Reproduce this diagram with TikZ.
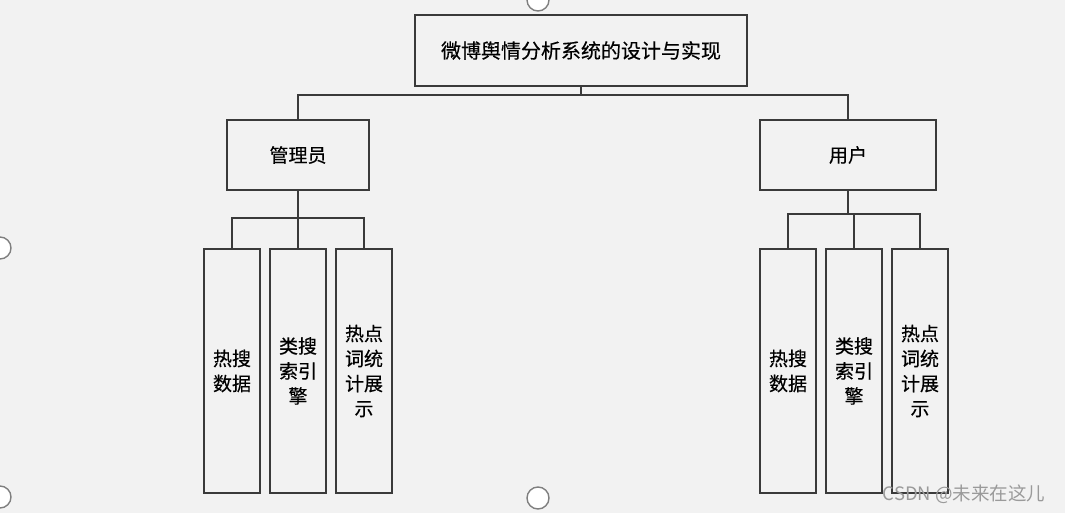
\documentclass[tikz,border=0pt]{standalone}
\usepackage{fontspec}
\newfontfamily\cjk{Noto Sans CJK SC}
\newfontfamily\cjkb[FakeBold=0.4]{Noto Sans CJK SC}
\definecolor{bg}{HTML}{F2F2F2}
\definecolor{edge}{HTML}{3A3A3A}
\definecolor{handle}{HTML}{7F7F7F}
\definecolor{wm}{HTML}{9A9A9A}
\begin{document}
\begin{tikzpicture}[x=1pt,y=-1pt,
  box/.style={draw=edge,line width=1.1pt,fill=bg,inner sep=0pt,font=\cjkb},
  leaf/.style={box,minimum width=56pt,minimum height=244pt,align=center,
     font=\cjkb\fontsize{19}{25}\selectfont},
  conn/.style={draw=edge,line width=1.1pt},
  hdl/.style={draw=handle,line width=1.4pt,fill=white}]
\useasboundingbox (0,0) rectangle (1065,513);
\fill[bg] (0,0) rectangle (1065,513);
% root
\node[box,minimum width=332pt,minimum height=71pt,font=\cjkb\fontsize{20}{24}\selectfont] (root) at (581,50.5) {微博舆情分析系统的设计与实现};
\node[box,minimum width=142pt,minimum height=70pt,font=\cjkb\fontsize{19}{23}\selectfont] (admin) at (298,155) {管理员};
\node[box,minimum width=176pt,minimum height=70pt,font=\cjkb\fontsize{19}{23}\selectfont] (user) at (848,155) {用户};
% admin leaves
\node[leaf] (a1) at (232,371) {热搜\\数据};
\node[leaf] (a2) at (298,371) {类搜\\索引\\擎};
\node[leaf] (a3) at (364,371) {热点\\词统\\计展\\示};
% user leaves
\node[leaf] (u1) at (788,371) {热搜\\数据};
\node[leaf] (u2) at (854,371) {类搜\\索引\\擎};
\node[leaf] (u3) at (920,371) {热点\\词统\\计展\\示};
% connectors
\coordinate (rj) at (581,95);
\draw[conn] (root.south) -- (rj);
\draw[conn] (rj) -| (admin.north);
\draw[conn] (rj) -| (user.north);
\coordinate (aj) at (298,218);
\draw[conn] (admin.south) -- (aj);
\draw[conn] (aj) -| (a1.north);
\draw[conn] (aj) -| (a3.north);
\draw[conn] (aj) -- (a2.north);
\coordinate (uj) at (848,214);
\draw[conn] (user.south) -- (uj);
\draw[conn] (uj) -| (u1.north);
\draw[conn] (uj) -| (u3.north);
\draw[conn] (u2.north) |- (uj);
% handles
\draw[hdl] (538,0) circle (11);
\draw[hdl] (538,498) circle (11);
\draw[hdl] (0,248) circle (11);
\draw[hdl] (0,497) circle (11);
% watermark
\node[font=\cjk\fontsize{18.5}{20}\selectfont,text=wm,inner sep=0pt] (wmk) at (964,494) {CSDN @未来在这儿};
\end{tikzpicture}
\end{document}
